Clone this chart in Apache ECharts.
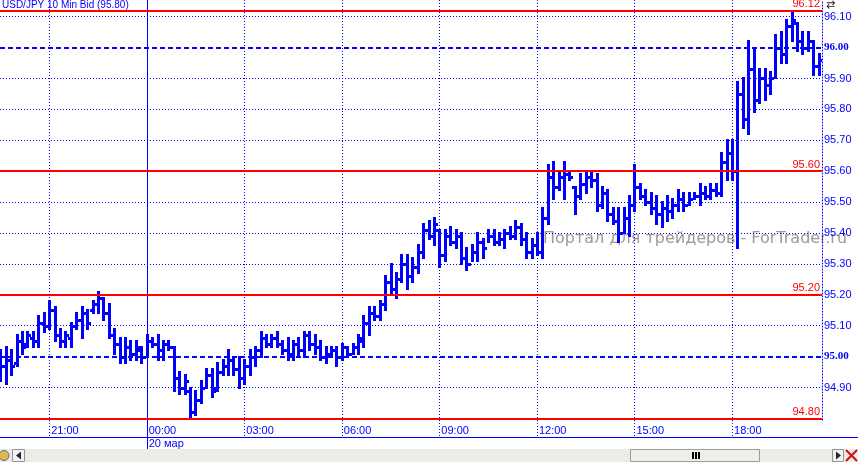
<!DOCTYPE html>
<html>
<head>
<meta charset="utf-8">
<script src="https://cdn.jsdelivr.net/npm/echarts@6/dist/echarts.min.js"></script>
<style>
html, body { margin: 0; padding: 0; background: #fff; }
#chart { width: 858px; height: 462px; }
</style>
</head>
<body>
<div id="chart"></div>
<script>
const title = 'USD/JPY 10 Min Bid (95.80)';
const watermark = 'Портал для трейдеров - ForTrader.ru';

// one slot = 10 min, slot 0 = 00:00 20 мар; first bar is 19:30 the day before
const firstSlot = -27;

const opens = [
  94.95, 94.97, 94.99, 94.98, 95.05, 95.04, 95.06, 95.05, 95.11, 95.10,
  95.15, 95.07, 95.05, 95.06, 95.10, 95.12, 95.14, 95.15, 95.17, 95.19,
  95.14, 95.07, 95.04, 95.00, 95.03, 95.01, 95.02, 95.00, 95.05, 95.04,
  95.02, 95.04, 95.03, 94.93, 94.90, 94.89, 94.82, 94.86, 94.90, 94.94,
  94.90, 94.95, 94.97, 94.99, 94.96, 94.93, 94.97, 95.00, 95.02, 95.06,
  95.04, 95.06, 95.04, 95.02, 95.01, 95.04, 95.02, 95.07, 95.04, 95.03,
  95.00, 95.01, 95.02, 95.00, 95.03, 95.01, 95.03, 95.05, 95.11, 95.14,
  95.13, 95.17, 95.24, 95.22, 95.25, 95.30, 95.26, 95.29, 95.34, 95.41,
  95.39, 95.41, 95.33, 95.39, 95.37, 95.39, 95.32, 95.30, 95.34, 95.37,
  95.35, 95.39, 95.37, 95.38, 95.40, 95.39, 95.42, 95.38, 95.34, 95.36,
  95.34, 95.45, 95.58, 95.55, 95.58, 95.59, 95.55, 95.52, 95.56, 95.58,
  95.57, 95.49, 95.53, 95.46, 95.44, 95.40, 95.45, 95.49, 95.55, 95.52,
  95.50, 95.48, 95.46, 95.48, 95.47, 95.49, 95.51, 95.49, 95.51, 95.52,
  95.53, 95.52, 95.54, 95.53, 95.63, 95.66, 95.60, 95.85, 95.77, 95.93,
  95.83, 95.90, 95.88, 95.90, 96.00, 95.98, 96.07, 96.08, 96.02, 96.00,
  96.02, 95.94
];
const highs = [
  95.02, 95.03, 95.02, 95.07, 95.08, 95.08, 95.08, 95.13, 95.14, 95.18,
  95.16, 95.09, 95.08, 95.11, 95.14, 95.16, 95.15, 95.18, 95.21, 95.19,
  95.17, 95.09, 95.06, 95.06, 95.05, 95.05, 95.03, 95.07, 95.06, 95.07,
  95.05, 95.05, 95.03, 94.95, 94.94, 94.90, 94.89, 94.92, 94.96, 94.96,
  94.98, 94.99, 95.02, 95.00, 95.00, 94.99, 95.02, 95.03, 95.08, 95.07,
  95.07, 95.08, 95.05, 95.06, 95.05, 95.06, 95.08, 95.08, 95.07, 95.05,
  95.03, 95.03, 95.03, 95.04, 95.03, 95.04, 95.07, 95.13, 95.16, 95.16,
  95.18, 95.26, 95.30, 95.27, 95.33, 95.33, 95.32, 95.36, 95.43, 95.44,
  95.45, 95.41, 95.41, 95.42, 95.41, 95.40, 95.35, 95.36, 95.40, 95.38,
  95.41, 95.41, 95.40, 95.41, 95.42, 95.44, 95.43, 95.40, 95.38, 95.40,
  95.48, 95.62, 95.63, 95.60, 95.63, 95.60, 95.55, 95.59, 95.60, 95.60,
  95.59, 95.55, 95.54, 95.48, 95.48, 95.48, 95.52, 95.62, 95.56, 95.54,
  95.53, 95.52, 95.50, 95.52, 95.51, 95.54, 95.53, 95.53, 95.53, 95.56,
  95.55, 95.56, 95.56, 95.66, 95.70, 95.70, 95.89, 95.90, 96.02, 96.00,
  95.93, 95.93, 95.92, 96.04, 96.05, 96.09, 96.12, 96.08, 96.05, 96.05,
  96.02, 95.98
];
const lows = [
  94.92, 94.91, 94.94, 94.97, 95.01, 95.03, 95.03, 95.03, 95.08, 95.09,
  95.05, 95.03, 95.03, 95.03, 95.09, 95.06, 95.09, 95.14, 95.14, 95.12,
  95.06, 95.01, 94.98, 94.98, 94.99, 94.99, 94.98, 95.00, 95.03, 94.99,
  94.99, 95.02, 94.89, 94.88, 94.88, 94.80, 94.81, 94.85, 94.90, 94.87,
  94.89, 94.94, 94.94, 94.94, 94.90, 94.91, 94.94, 94.97, 95.00, 95.03,
  95.03, 95.03, 95.01, 94.99, 94.99, 95.00, 95.00, 95.02, 95.01, 94.99,
  94.98, 95.00, 94.97, 94.99, 95.00, 95.01, 95.01, 95.03, 95.07, 95.12,
  95.12, 95.15, 95.20, 95.19, 95.24, 95.22, 95.24, 95.27, 95.32, 95.38,
  95.36, 95.29, 95.31, 95.36, 95.35, 95.30, 95.28, 95.31, 95.31, 95.32,
  95.37, 95.36, 95.36, 95.35, 95.38, 95.38, 95.36, 95.32, 95.32, 95.33,
  95.32, 95.43, 95.51, 95.54, 95.51, 95.57, 95.46, 95.51, 95.53, 95.55,
  95.47, 95.48, 95.44, 95.43, 95.37, 95.40, 95.39, 95.47, 95.51, 95.49,
  95.46, 95.43, 95.42, 95.44, 95.45, 95.47, 95.47, 95.49, 95.51, 95.49,
  95.51, 95.51, 95.52, 95.52, 95.57, 95.57, 95.35, 95.74, 95.72, 95.79,
  95.82, 95.83, 95.85, 95.90, 95.95, 95.95, 96.02, 95.99, 95.98, 95.99,
  95.91, 95.91
];
const closes = [
  94.97, 94.99, 94.97, 95.05, 95.03, 95.07, 95.05, 95.11, 95.10, 95.15,
  95.07, 95.05, 95.07, 95.10, 95.12, 95.14, 95.11, 95.17, 95.19, 95.14,
  95.07, 95.04, 95.00, 95.03, 95.01, 95.03, 95.00, 95.05, 95.04, 95.02,
  95.04, 95.03, 94.93, 94.90, 94.92, 94.82, 94.86, 94.90, 94.94, 94.89,
  94.95, 94.97, 94.99, 94.96, 94.93, 94.97, 95.00, 95.02, 95.06, 95.04,
  95.06, 95.04, 95.02, 95.01, 95.04, 95.02, 95.07, 95.04, 95.03, 95.00,
  95.01, 95.02, 95.00, 95.03, 95.01, 95.03, 95.06, 95.11, 95.14, 95.13,
  95.17, 95.24, 95.22, 95.25, 95.30, 95.26, 95.29, 95.34, 95.41, 95.39,
  95.43, 95.33, 95.39, 95.37, 95.39, 95.32, 95.30, 95.34, 95.37, 95.35,
  95.39, 95.37, 95.38, 95.40, 95.39, 95.42, 95.38, 95.34, 95.36, 95.34,
  95.45, 95.58, 95.55, 95.58, 95.59, 95.58, 95.52, 95.56, 95.58, 95.57,
  95.49, 95.53, 95.46, 95.44, 95.40, 95.45, 95.49, 95.55, 95.52, 95.50,
  95.48, 95.46, 95.48, 95.47, 95.49, 95.51, 95.49, 95.51, 95.52, 95.53,
  95.52, 95.54, 95.53, 95.63, 95.66, 95.60, 95.85, 95.77, 95.93, 95.83,
  95.90, 95.88, 95.90, 96.00, 95.98, 96.07, 96.09, 96.02, 96.00, 96.02,
  95.94, 95.96
];

const timeSlots = [-18, 0, 18, 36, 54, 72, 90, 108];
const timeLabels = ['21:00', '00:00', '03:00', '06:00', '09:00', '12:00', '15:00', '18:00'];
const dateLabel = '20 мар';
const priceTicks = [94.9, 95.0, 95.1, 95.2, 95.3, 95.4, 95.5, 95.6, 95.7, 95.8, 95.9, 96.0, 96.1];
const dashedLevels = [95.0, 96.0];
const redLevels = [96.12, 95.60, 95.20, 94.80];

const BLUE = '#0000ff';
const RED = '#ff0000';
const FONT = 'Liberation Sans';

const bars = opens.map((o, i) => [firstSlot + i, o, highs[i], lows[i], closes[i]]);

function renderBar(params, api) {
  const s = api.value(0);
  const x = Math.round(api.coord([s, api.value(2)])[0]);
  const yH = Math.round(api.coord([s, api.value(2)])[1]);
  const yL = Math.round(api.coord([s, api.value(3)])[1]);
  const yO = Math.round(api.coord([s, api.value(1)])[1]);
  const yC = Math.round(api.coord([s, api.value(4)])[1]);
  const style = { fill: BLUE };
  return {
    type: 'group',
    children: [
      { type: 'rect', shape: { x: x - 1, y: yH - 1, width: 3, height: yL - yH + 2 }, style },
      { type: 'rect', shape: { x: x - 3, y: yO - 1, width: 2, height: 3 }, style },
      { type: 'rect', shape: { x: x + 2, y: yC - 1, width: 2, height: 3 }, style }
    ]
  };
}

const same = (a, b) => Math.abs(a - b) < 1e-6;

const chart = echarts.init(document.getElementById('chart'));
chart.setOption({
  animation: false,
  backgroundColor: '#fff',
  title: {
    text: title, left: 2, top: 0, padding: 0,
    textStyle: { color: BLUE, fontSize: 10, fontWeight: 'normal', fontFamily: FONT }
  },
  grid: { left: 0, right: 36, top: 0, bottom: 42 },
  xAxis: {
    type: 'value', min: -27.07, max: 124.6,
    axisLine: { show: false, onZero: false },
    axisTick: { show: false },
    splitLine: { show: false },
    axisLabel: {
      customValues: timeSlots,
      formatter: v => {
        const i = timeSlots.findIndex(t => same(t, v));
        if (i < 0) return '';
        return v === 0 ? timeLabels[i] + '\n' + dateLabel : timeLabels[i];
      },
      align: 'left', verticalAlign: 'top', margin: 4,
      padding: [0, 0, 0, 2],
      color: BLUE, fontSize: 11, lineHeight: 13, fontFamily: FONT
    }
  },
  yAxis: {
    type: 'value', position: 'right', min: 94.795, max: 96.154,
    axisLine: { show: true, onZero: false, lineStyle: { color: BLUE, width: 1, type: [1, 2] } },
    axisTick: { show: false },
    splitLine: { show: false },
    axisLabel: {
      customValues: priceTicks,
      margin: 2,
      color: BLUE, fontSize: 11, fontFamily: FONT,
      formatter: v => dashedLevels.some(d => same(d, v)) ? '{b|' + v.toFixed(2) + '}' : v.toFixed(2),
      rich: { b: { fontWeight: 'bold', fontFamily: 'Liberation Serif', fontSize: 11, color: BLUE } }
    }
  },
  series: [{
    type: 'custom',
    renderItem: renderBar,
    data: bars,
    encode: { x: 0, y: [1, 2, 3, 4] },
    clip: true,
    markLine: {
      silent: true, symbol: 'none', animation: false,
      data: [
        ...priceTicks.filter(v => !dashedLevels.some(d => same(d, v))).map(v => ({
          yAxis: v, lineStyle: { color: BLUE, width: 1, type: [1, 2] }, label: { show: false }
        })),
        ...dashedLevels.map(v => ({
          yAxis: v, lineStyle: { color: BLUE, width: 2, type: [5, 3] }, label: { show: false }
        })),
        ...redLevels.map(v => ({
          yAxis: v, lineStyle: { color: RED, width: 2, type: 'solid' },
          label: {
            show: true, position: 'insideEndTop', formatter: v.toFixed(2),
            color: RED, fontSize: 11, fontFamily: FONT, distance: [2, 1], padding: 0
          }
        }))
      ]
    }
  }]
});

// vertical time grid, window chrome and watermark
const px = s => Math.round(chart.convertToPixel({ xAxisIndex: 0 }, s)) + 0.5;
const gfx = [];
gfx.push({
  type: 'text', left: 543, top: 231, z: 0, silent: true,
  style: { text: watermark, fill: '#a09896', font: '16px "DejaVu Sans"' }
});
timeSlots.forEach(s => {
  const x = px(s);
  gfx.push({
    type: 'line', z: 1, silent: true,
    shape: { x1: x, y1: 0, x2: x, y2: s === 0 ? 449 : 437 },
    style: { stroke: BLUE, lineWidth: 1, lineDash: s === 0 ? null : [1, 2] }
  });
});
gfx.push({ type: 'line', silent: true, shape: { x1: 0, y1: 437.5, x2: 858, y2: 437.5 }, style: { stroke: BLUE, lineWidth: 1 } });
gfx.push({ type: 'rect', silent: true, shape: { x: 0, y: 449, width: 858, height: 13 }, style: { fill: '#ecebe5' } });
// top-right scale glyph
gfx.push({ type: 'text', silent: true, left: 826, top: 0, style: { text: '⇄', fill: '#222', font: '11px "DejaVu Sans"' } });
// left globe + button
gfx.push({ type: 'circle', silent: true, shape: { cx: 4, cy: 455.5, r: 5 }, style: { fill: '#e7b740', stroke: '#3b6fc0', lineWidth: 1 } });
gfx.push({ type: 'rect', silent: true, shape: { x: 12.5, y: 449.5, width: 12, height: 12 }, style: { fill: '#f3f2ee', stroke: '#8f9596' } });
gfx.push({ type: 'polygon', silent: true, shape: { points: [[21, 451.5], [21, 459.5], [16, 455.5]] }, style: { fill: '#1c2a33' } });
// thumb
gfx.push({ type: 'rect', silent: true, shape: { x: 630.5, y: 449.5, width: 129, height: 12 }, style: { fill: '#efeee9', stroke: '#9a9a9a' } });
[692, 695, 698].forEach(x => gfx.push({
  type: 'rect', silent: true, shape: { x: x, y: 452, width: 2, height: 7 }, style: { fill: '#000' }
}));
// right button + close
gfx.push({ type: 'rect', silent: true, shape: { x: 832.5, y: 449.5, width: 11, height: 12 }, style: { fill: '#f3f2ee', stroke: '#8f9596' } });
gfx.push({ type: 'polygon', silent: true, shape: { points: [[836, 451.5], [836, 459.5], [841, 455.5]] }, style: { fill: '#1c2a33' } });
gfx.push({ type: 'line', silent: true, shape: { x1: 846, y1: 450, x2: 857, y2: 461 }, style: { stroke: '#cc1010', lineWidth: 2 } });
gfx.push({ type: 'line', silent: true, shape: { x1: 857, y1: 450, x2: 846, y2: 461 }, style: { stroke: '#cc1010', lineWidth: 2 } });
chart.setOption({ graphic: gfx });
</script>
</body>
</html>
